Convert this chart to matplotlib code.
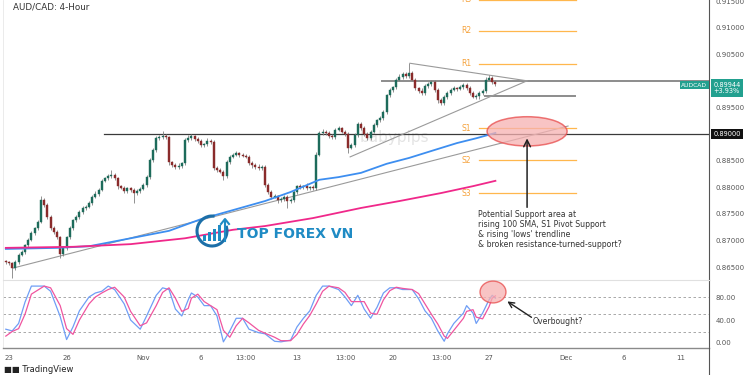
import matplotlib
matplotlib.use('Agg')
import matplotlib.pyplot as plt
import numpy as np
from matplotlib.patches import Ellipse, Rectangle, Arc
from matplotlib.transforms import blended_transform_factory, IdentityTransform
from matplotlib.lines import Line2D

# ---------------- data ----------------
first_bar = -1          # bar index of first candle (0 = Oct 23 00:00, 6 bars per trading day)
first_open = 0.8661
close = [
    0.8659, 0.8657, 0.8648, 0.8659, 0.8673, 0.8678, 0.8691, 0.8701, 0.8714, 0.8723,
    0.8735, 0.8776, 0.8767, 0.8744, 0.8723, 0.8716, 0.8706, 0.8674, 0.8686, 0.8706,
    0.8723, 0.8738, 0.8744, 0.8753, 0.8761, 0.8763, 0.8770, 0.8782, 0.8787, 0.8795,
    0.8812, 0.8817, 0.8821, 0.8823, 0.8817, 0.8802, 0.8799, 0.8793, 0.8798, 0.8795,
    0.8789, 0.8793, 0.8797, 0.8804, 0.8819, 0.8851, 0.8870, 0.8892, 0.8894, 0.8896,
    0.8894, 0.8847, 0.8842, 0.8838, 0.8840, 0.8845, 0.8889, 0.8892, 0.8896, 0.8891,
    0.8887, 0.8879, 0.8881, 0.8887, 0.8885, 0.8836, 0.8832, 0.8829, 0.8821, 0.8847,
    0.8857, 0.8861, 0.8864, 0.8861, 0.8859, 0.8857, 0.8845, 0.8842, 0.8838, 0.8836,
    0.8838, 0.8804, 0.8791, 0.8782, 0.8783, 0.8776, 0.8778, 0.8782, 0.8774, 0.8776,
    0.8791, 0.8802, 0.8800, 0.8802, 0.8798, 0.8800, 0.8798, 0.8861, 0.8902, 0.8904,
    0.8902, 0.8896, 0.8894, 0.8908, 0.8911, 0.8904, 0.8900, 0.8874, 0.8879, 0.8898,
    0.8919, 0.8911, 0.8900, 0.8892, 0.8904, 0.8917, 0.8926, 0.8930, 0.8941, 0.8973,
    0.8983, 0.8988, 0.9002, 0.9007, 0.9013, 0.9009, 0.9015, 0.9002, 0.8986, 0.8981,
    0.8977, 0.8990, 0.8994, 0.8998, 0.8983, 0.8964, 0.8958, 0.8970, 0.8977, 0.8983,
    0.8986, 0.8985, 0.8988, 0.8992, 0.8986, 0.8977, 0.8970, 0.8971, 0.8977, 0.8981,
    0.9002, 0.9005, 0.8998, 0.8994,
]
# wick lengths in pips (0.0001)
wick_up = [
    3, 3, 2, 4, 3, 4, 3, 3, 4, 3, 3, 7, 4, 3, 3, 5, 3, 3, 4, 3,
    4, 3, 3, 4, 3, 3, 4, 3, 5, 3, 4, 3, 3, 9, 4, 3, 3, 4, 3, 3,
    3, 4, 3, 3, 4, 4, 3, 5, 4, 10, 4, 3, 3, 4, 5, 3, 4, 6, 4, 3,
    3, 4, 3, 5, 4, 3, 3, 4, 3, 4, 3, 3, 5, 3, 3, 4, 3, 4, 3, 5,
    3, 3, 4, 3, 4, 3, 3, 4, 3, 3, 4, 3, 4, 3, 5, 3, 4, 5, 4, 5,
    3, 4, 4, 3, 5, 3, 4, 3, 5, 3, 4, 3, 4, 3, 3, 4, 3, 3, 4, 3,
    4, 3, 4, 5, 3, 4, 18, 3, 4, 3, 5, 4, 3, 4, 3, 4, 3, 4, 3, 3,
    4, 3, 4, 3, 3, 4, 3, 4, 3, 4, 5, 6, 4, 3,
]
wick_dn = [
    3, 4, 18, 3, 4, 3, 3, 4, 3, 3, 4, 3, 4, 3, 4, 3, 4, 7, 3, 4,
    3, 4, 3, 3, 4, 3, 3, 4, 3, 4, 3, 3, 4, 3, 4, 5, 3, 4, 3, 4,
    19, 3, 4, 3, 3, 4, 3, 3, 4, 3, 4, 5, 4, 3, 4, 3, 3, 4, 3, 4,
    3, 4, 3, 3, 4, 3, 4, 3, 7, 3, 4, 3, 3, 4, 3, 3, 4, 5, 3, 4,
    3, 4, 3, 4, 3, 5, 3, 4, 13, 3, 4, 3, 4, 3, 4, 3, 4, 3, 3, 4,
    3, 4, 3, 4, 3, 3, 4, 10, 3, 4, 3, 4, 3, 4, 3, 3, 4, 3, 4, 3,
    3, 4, 3, 3, 4, 3, 4, 3, 4, 3, 4, 3, 4, 3, 4, 5, 4, 3, 4, 3,
    3, 4, 3, 4, 3, 4, 3, 4, 5, 3, 4, 3, 4, 3,
]

sma100_bar = [-1, 15, 25, 38, 50, 60, 70, 80, 88, 97, 103, 110, 118, 125, 133, 140, 146, 152]
sma100 = [0.8684, 0.8686, 0.8689, 0.8704, 0.8718, 0.8740, 0.8757, 0.8774, 0.8791, 0.8814,
          0.8819, 0.8827, 0.8844, 0.8855, 0.8870, 0.8883, 0.8892, 0.8902]
sma200_bar = [-1, 20, 38, 55, 70, 80, 95, 110, 122, 135, 145, 152]
sma200 = [0.8686, 0.8688, 0.8693, 0.8704, 0.8720, 0.8727, 0.8742, 0.8761, 0.8774, 0.8789,
          0.8802, 0.8812]

stoch_bar = [-1, 1, 3, 5, 7, 11, 13, 16, 18, 20, 22, 25, 27, 29, 31, 33, 36, 38, 41, 43,
             46, 48, 50, 52, 54, 56, 57, 59, 61, 63, 65, 67, 69, 71, 73, 75, 78, 80, 83, 85,
             88, 90, 92, 94, 96, 98, 100, 103, 105, 107, 109, 111, 113, 115, 117, 119, 121, 123, 126, 128,
             130, 132, 134, 136, 137, 139, 142, 143, 145, 146, 148, 150, 151, 152]
stoch_k = [24, 21, 34, 71, 99, 99, 90, 46, 6, 28, 56, 80, 87, 90, 99, 93, 68, 40, 24, 47,
           83, 96, 93, 59, 47, 75, 87, 80, 65, 65, 47, 2, 21, 43, 43, 24, 18, 16, 3, 2,
           5, 28, 43, 56, 83, 99, 99, 93, 80, 65, 83, 59, 43, 62, 87, 96, 96, 93, 93, 77,
           56, 43, 21, 3, 16, 34, 52, 65, 52, 34, 52, 75, 83, 78]
stoch_d = [12, 20, 25, 50, 85, 99, 96, 65, 25, 15, 40, 68, 80, 87, 93, 97, 80, 55, 30, 35,
           65, 88, 96, 78, 55, 60, 78, 85, 72, 65, 58, 22, 10, 30, 43, 35, 22, 17, 10, 4,
           4, 15, 33, 48, 68, 90, 99, 96, 88, 72, 72, 72, 52, 50, 75, 91, 97, 95, 93, 86,
           68, 50, 33, 12, 8, 22, 43, 55, 58, 45, 42, 63, 78, 82]

pivot_names = ['R3', 'R2', 'R1', 'S1', 'S2', 'S3']
pivot_levels = [0.9152, 0.9094, 0.9032, 0.8911, 0.8851, 0.8789]

level_090 = 0.8900
level_resist = 0.9000
level_mid = 0.8971

tick_pos = [0, 18, 42, 60, 74, 90, 105, 120, 135, 150, 174, 192, 210]
tick_labels = ['23', '26', 'Nov', '6', '13:00', '13', '13:00', '20', '13:00', '27', 'Dec', '6', '11']
price_ticks = [0.865, 0.870, 0.875, 0.880, 0.885, 0.895, 0.905, 0.910, 0.915]
stoch_ticks = [0, 40, 80]

last_price = 0.89944
last_change = '+3.93%'

# ---------------- figure ----------------
W, H = 750, 375
fig = plt.figure(figsize=(7.5, 3.75), dpi=100)
fig.patch.set_facecolor('white')

ax = fig.add_axes([3 / W, 1 - 280 / H, 706 / W, 280 / H])
axs = fig.add_axes([3 / W, 1 - 348 / H, 706 / W, 68 / H])
xlim = (-1.875, 218.75)

bars = np.arange(first_bar, first_bar + len(close))
c = np.array(close)
o = np.concatenate([[first_open], c[:-1]])
hi = np.maximum(o, c) + np.array(wick_up) * 0.0001
lo = np.minimum(o, c) - np.array(wick_dn) * 0.0001
up = c >= o
col = np.where(up, '#1d6b5b', '#8a2b2b')

ax.vlines(bars, lo, hi, color='#808080', lw=0.6, zorder=3)
body_h = np.maximum(np.abs(c - o), 0.00006)
ax.bar(bars, body_h, bottom=np.minimum(o, c), width=0.62, color=col, edgecolor=col, lw=0.3, zorder=4)

ax.plot(sma100_bar, sma100, color='#3d8ef0', lw=1.3, zorder=5)
ax.plot(sma200_bar, sma200, color='#f0288a', lw=1.3, zorder=5)

# horizontal levels
ax.plot([29.7, xlim[1]], [level_090, level_090], color='#3a3a3a', lw=0.9, zorder=2)
ax.plot([116.6, xlim[1]], [level_resist, level_resist], color='#8c8c8c', lw=1.4, zorder=2)
ax.plot([148.75, 177], [level_mid, level_mid], color='#8c8c8c', lw=1.4, zorder=2)

# trendlines
ax.plot([1.25, 174.7], [0.8648, 0.8915], color='#9a9a9a', lw=0.8, zorder=2)
ax.plot([125.3, 161.9], [0.9033, 0.9000], color='#9a9a9a', lw=0.8, zorder=2)
ax.plot([106.6, 161.9], [0.8857, 0.9000], color='#9a9a9a', lw=0.8, zorder=2)

# pivots
for name, lv in zip(pivot_names, pivot_levels):
    ax.plot([147, 177.2], [lv, lv], color='#ffb74d', lw=0.9, zorder=2)
    ax.text(142.8, lv, name, color='#f5a13a', fontsize=5.5, ha='center', va='center', zorder=6)

# ellipse highlight
ax.add_patch(Ellipse((161.9, 0.8905), 25, 0.0055, facecolor='#f6b1b1', alpha=0.75,
                     edgecolor='#e84a4a', lw=1.1, zorder=6))
ax.annotate('', xy=(161.9, 0.8897), xytext=(161.9, 0.8757),
            arrowprops=dict(arrowstyle='->', color='#222222', lw=1.1, mutation_scale=12), zorder=7)
ax.text(146.6, 0.8757, "Potential Support area at\nrising 100 SMA, S1 Pivot Support\n& rising 'lows' trendline\n& broken resistance-turned-support?",
        fontsize=5.6, color='#333333', ha='left', va='top', linespacing=1.15, zorder=7)

# watermark
ax.text(120.6, 0.8893, 'babypips', fontsize=11, color='#e4e4e4', ha='center', va='center', zorder=1)

ax.set_xlim(*xlim)
ax.set_ylim(0.86256, 0.91519)
ax.set_xticks([])
ax.yaxis.tick_right()
ax.set_yticks(price_ticks)
ax.set_yticklabels(['%.5f' % v for v in price_ticks])
ax.tick_params(axis='y', length=0, pad=5, labelsize=5, labelcolor='#555555')
for s in ['top', 'bottom']:
    ax.spines[s].set_visible(False)
ax.spines['left'].set_color('#e8e8e8')
ax.spines['left'].set_linewidth(0.6)
ax.spines['right'].set_color('#555555')
ax.spines['right'].set_linewidth(0.8)

# right-axis labels
tr = blended_transform_factory(ax.transAxes, ax.transData)
ax.text(0.9975, 0.8992, 'AUDCAD', transform=tr, fontsize=4.3, color='white', ha='right', va='center',
        bbox=dict(boxstyle='square,pad=0.25', facecolor='#22a08f', edgecolor='none'), zorder=8)
ax.text(1.006, 0.89865, '%.5f\n%s' % (last_price, last_change), transform=tr, fontsize=4.8, color='white',
        ha='left', va='center', linespacing=1.1,
        bbox=dict(boxstyle='square,pad=0.35', facecolor='#22a08f', edgecolor='none'), zorder=8, clip_on=False)
ax.text(1.006, level_090, '%.5f' % level_090, transform=tr, fontsize=4.8, color='white',
        ha='left', va='center',
        bbox=dict(boxstyle='square,pad=0.3', facecolor='#111111', edgecolor='none'), zorder=8, clip_on=False)

# title
fig.text(13 / W, 1 - 7 / H, 'AUD/CAD: 4-Hour', fontsize=6.3, color='#333333', ha='left', va='center')

# ---------------- stochastic ----------------
axs.plot(stoch_bar, stoch_k, color='#6f9ef5', lw=0.9, zorder=3)
axs.plot(stoch_bar, stoch_d, color='#f0559f', lw=0.9, zorder=4)
for lv in [80, 50, 20]:
    axs.axhline(lv, color='#9a9a9a', lw=0.6, dashes=(3, 3), zorder=1)
axs.add_patch(Ellipse((151.25, 88.7), 8.1, 38, facecolor='#f6b1b1', alpha=0.75,
                      edgecolor='#e84a4a', lw=1.0, zorder=5))
axs.annotate('', xy=(155, 75), xytext=(164, 42),
             arrowprops=dict(arrowstyle='->', color='#222222', lw=1.0, mutation_scale=10), zorder=6)
axs.text(163.5, 38, 'Overbought?', fontsize=5.6, color='#333333', ha='left', va='center', zorder=6)

axs.set_xlim(*xlim)
axs.set_ylim(-8.7, 109.6)
axs.yaxis.tick_right()
axs.set_yticks(stoch_ticks)
axs.set_yticklabels(['%.2f' % v for v in stoch_ticks])
axs.tick_params(axis='y', length=0, pad=5, labelsize=5, labelcolor='#555555')
axs.set_xticks(tick_pos)
axs.set_xticklabels(tick_labels)
axs.tick_params(axis='x', length=0, pad=5, labelsize=5, labelcolor='#555555')
axs.spines['top'].set_color('#e0e0e0')
axs.spines['top'].set_linewidth(0.8)
axs.spines['left'].set_color('#e8e8e8')
axs.spines['left'].set_linewidth(0.6)
axs.spines['bottom'].set_color('#8a8a8a')
axs.spines['bottom'].set_linewidth(1.0)
axs.spines['right'].set_color('#555555')
axs.spines['right'].set_linewidth(0.8)

fig.add_artist(Line2D([709 / W, 709 / W], [0, 27 / H], color='#555555', lw=0.8))

# ---------------- logos ----------------
idt = IdentityTransform()
blue = '#1f8bc4'
fig.text(237 / W, 1 - 234 / H, 'TOP FOREX VN', fontsize=10, fontweight='bold', color=blue,
         ha='left', va='center')
fig.add_artist(Arc((212, H - 231), 30, 30, theta1=80, theta2=380, color='#1c6fa8', lw=2.2, transform=idt))
for bx, bh in zip([203, 208, 213, 218], [6, 9, 12, 16]):
    fig.add_artist(Rectangle((bx, H - 241), 3, bh, facecolor=blue, edgecolor='none', transform=idt))
fig.add_artist(Line2D([225, 225], [H - 241, H - 220], color=blue, lw=1.5, transform=idt))
fig.add_artist(Line2D([221, 225, 229], [H - 224, H - 219, H - 224], color=blue, lw=1.5, transform=idt))

fig.text(4 / W, 1 - 374 / H, '\u25A0\u25A0 TradingView', fontsize=6, color='#222222', ha='left', va='bottom')

fig.savefig('out.png', dpi=100)
